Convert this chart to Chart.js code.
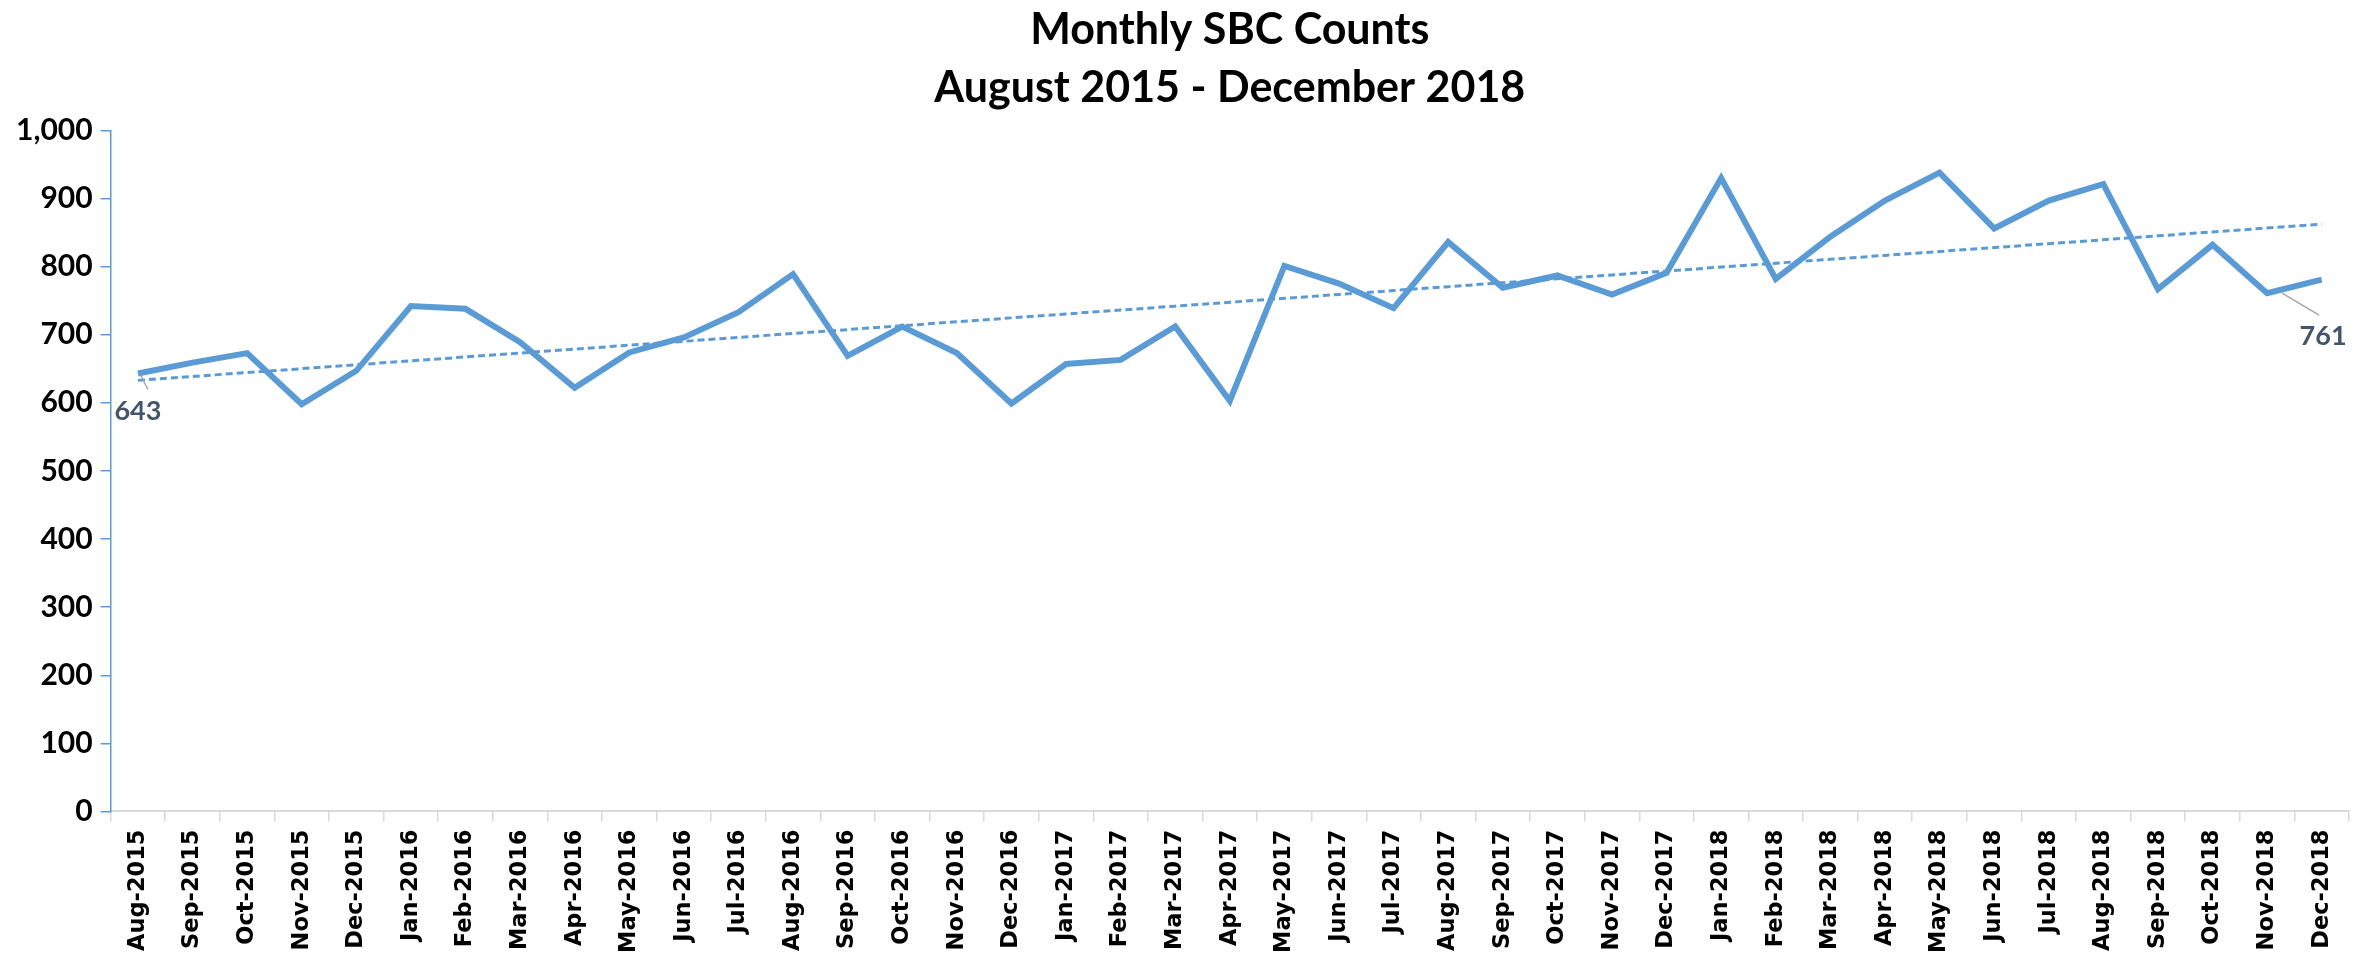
<!DOCTYPE html>
<html>
<head>
<meta charset="utf-8">
<script src="https://cdn.jsdelivr.net/npm/chart.js@4/dist/chart.umd.min.js"></script>
<style>
  html, body { margin: 0; padding: 0; background: #fff; }
  #wrap { width: 2379px; height: 963px; }
</style>
</head>
<body>
<div id="wrap"><canvas id="sbc" width="2379" height="963"></canvas></div>
<script>
const months = [
  "Aug-2015", "Sep-2015", "Oct-2015", "Nov-2015", "Dec-2015",
  "Jan-2016", "Feb-2016", "Mar-2016", "Apr-2016", "May-2016", "Jun-2016",
  "Jul-2016", "Aug-2016", "Sep-2016", "Oct-2016", "Nov-2016", "Dec-2016",
  "Jan-2017", "Feb-2017", "Mar-2017", "Apr-2017", "May-2017", "Jun-2017",
  "Jul-2017", "Aug-2017", "Sep-2017", "Oct-2017", "Nov-2017", "Dec-2017",
  "Jan-2018", "Feb-2018", "Mar-2018", "Apr-2018", "May-2018", "Jun-2018",
  "Jul-2018", "Aug-2018", "Sep-2018", "Oct-2018", "Nov-2018", "Dec-2018"
];
const sbcCounts = [
  643, 659, 673, 598, 647,
  742, 738, 689, 622, 674, 696,
  733, 789, 669, 712, 673, 599,
  657, 663, 712, 603, 801, 775,
  739, 836, 769, 787, 759, 791,
  930, 782, 844, 897, 938, 856,
  897, 921, 767, 832, 761, 781
];
const yTicks = [0, 100, 200, 300, 400, 500, 600, 700, 800, 900, 1000];
const labelledPoints = [0, 39];  // Excel data labels on Aug-2015 and Nov-2018

// linear trendline (least squares), like Excel's
function trend(values) {
  const n = values.length;
  const mx = (n - 1) / 2;
  const my = values.reduce((a, b) => a + b, 0) / n;
  let sxy = 0, sxx = 0;
  values.forEach((v, i) => { sxy += (i - mx) * (v - my); sxx += (i - mx) * (i - mx); });
  const slope = sxy / sxx;
  return values.map((v, i) => my + slope * (i - mx));
}

const blue = "#5B9BD5";

const dataLabels = {
  id: "dataLabels",
  afterDatasetsDraw(chart) {
    const { ctx } = chart;
    const meta = chart.getDatasetMeta(0);
    const offsets = { 0: [0, 38, 3, 2, 10, 16], 39: [56, 43, 15, 0, 52, 22] };
    ctx.save();
    labelledPoints.forEach(i => {
      const pt = meta.data[i];
      const o = offsets[i];
      ctx.strokeStyle = "#A6A6A6";
      ctx.lineWidth = 1.5;
      ctx.beginPath();
      ctx.moveTo(pt.x + o[2], pt.y + o[3]);
      ctx.lineTo(pt.x + o[4], pt.y + o[5]);
      ctx.stroke();
      ctx.fillStyle = "#44546A";
      ctx.font = "bold 27px Lato";
      ctx.textAlign = "center";
      ctx.textBaseline = "middle";
      ctx.fillText(String(sbcCounts[i]), pt.x + o[0], pt.y + o[1]);
    });
    ctx.restore();
  }
};

new Chart(document.getElementById("sbc"), {
  type: "line",
  data: {
    labels: months,
    datasets: [
      {
        label: "SBC Count",
        data: sbcCounts,
        borderColor: blue,
        borderWidth: 6,
        pointRadius: 0,
        tension: 0,
        borderJoinStyle: "miter"
      },
      {
        label: "Linear trend",
        data: trend(sbcCounts),
        borderColor: blue,
        borderWidth: 3,
        borderDash: [7, 4],
        pointRadius: 0,
        tension: 0
      }
    ]
  },
  options: {
    responsive: false,
    animation: false,
    layout: { padding: { left: 8, right: 30, top: 0, bottom: 2 } },
    plugins: {
      legend: { display: false },
      tooltip: { enabled: false },
      title: {
        display: true,
        fullSize: false,
        text: ["Monthly SBC Counts", "August 2015 - December 2018"],
        color: "#000",
        font: { family: "Lato", weight: "bold", size: 43, lineHeight: 1.33 },
        padding: { top: 2, bottom: 14 }
      }
    },
    scales: {
      x: {
        offset: true,
        grid: { offset: true, drawOnChartArea: false, color: "#D9D9D9", tickLength: 10, lineWidth: 1.5 },
        border: { color: "#D9D9D9", width: 2 },
        ticks: {
          color: "#000",
          autoSkip: false,
          minRotation: 90,
          maxRotation: 90,
          padding: 8,
          font: { family: "DejaVu Sans", weight: "bold", size: 22.5 }
        }
      },
      y: {
        min: 0,
        max: 1000,
        afterBuildTicks(axis) { axis.ticks = yTicks.map(v => ({ value: v })); },
        grid: { drawOnChartArea: false, color: blue, tickLength: 10, lineWidth: 1.5 },
        border: { color: blue, width: 1.5 },
        ticks: {
          color: "#000",
          padding: 8,
          font: { family: "Lato", weight: "bold", size: 30 },
          callback: v => v.toLocaleString("en-US")
        }
      }
    }
  },
  plugins: [dataLabels]
});
</script>
</body>
</html>
